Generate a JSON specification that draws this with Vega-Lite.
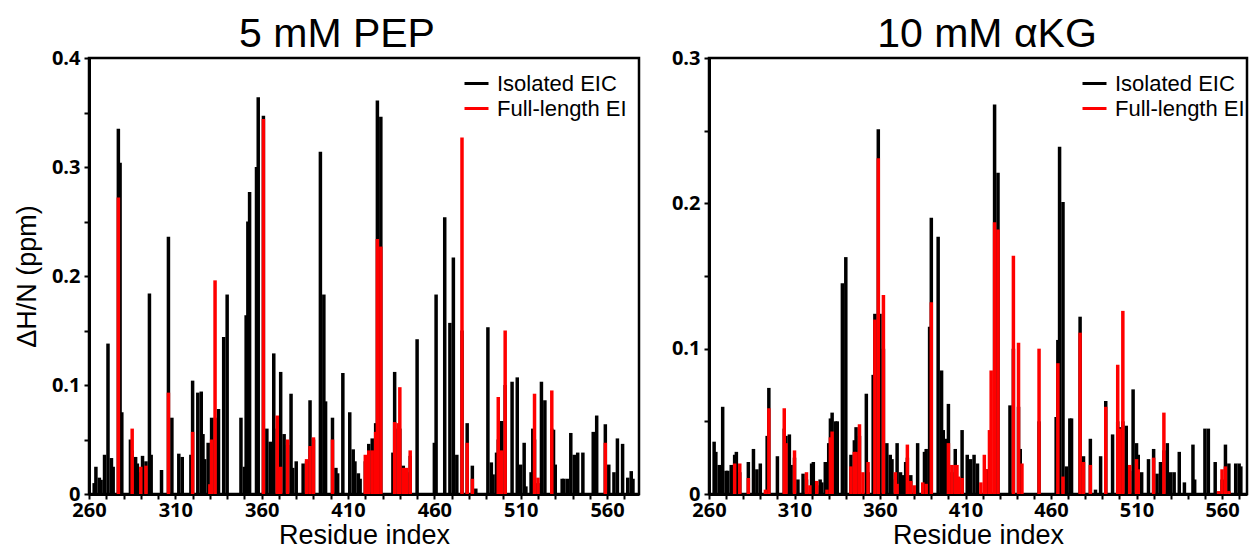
{
"$schema": "https://vega.github.io/schema/vega-lite/v6.json",
"background": "white",
"padding": {"left": 12, "top": 12, "right": 5, "bottom": 0},
"spacing": 29,
"resolve": {"legend": {"color": "independent"}},
"config": {
  "view": {"stroke": "black", "strokeWidth": 2.5},
  "axis": {"grid": false, "domainColor": "black", "domainWidth": 3, "tickColor": "black", "tickWidth": 2, "tickSize": 5, "labelFont": "Open Sans", "labelFontWeight": "bold", "labelFontSize": 20, "labelColor": "black", "labelFlush": false, "labelOverlap": false, "titleFont": "Liberation Sans", "titleFontWeight": "normal", "titleFontSize": 27, "titleColor": "black"},
  "axisY": {"labelPadding": 4},
  "axisX": {"labelPadding": 1}
},
"datasets": {
"pep": [
{"residue":263,"series":"Isolated EIC","shift":0.01},{"residue":264,"series":"Isolated EIC","shift":0.025},{"residue":266,"series":"Isolated EIC","shift":0.015},{"residue":267,"series":"Isolated EIC","shift":0.013},{"residue":269,"series":"Isolated EIC","shift":0.036},{"residue":271,"series":"Isolated EIC","shift":0.138},{"residue":273,"series":"Isolated EIC","shift":0.033},{"residue":274,"series":"Isolated EIC","shift":0.025},{"residue":277,"series":"Isolated EIC","shift":0.335},{"residue":278,"series":"Isolated EIC","shift":0.304},{"residue":279,"series":"Isolated EIC","shift":0.075},{"residue":284,"series":"Isolated EIC","shift":0.05},{"residue":285,"series":"Isolated EIC","shift":0.04},{"residue":287,"series":"Isolated EIC","shift":0.034},{"residue":288,"series":"Isolated EIC","shift":0.028},{"residue":290,"series":"Isolated EIC","shift":0.02},{"residue":291,"series":"Isolated EIC","shift":0.035},{"residue":293,"series":"Isolated EIC","shift":0.03},{"residue":295,"series":"Isolated EIC","shift":0.184},{"residue":296,"series":"Isolated EIC","shift":0.036},{"residue":302,"series":"Isolated EIC","shift":0.022},{"residue":306,"series":"Isolated EIC","shift":0.236},{"residue":308,"series":"Isolated EIC","shift":0.07},{"residue":312,"series":"Isolated EIC","shift":0.037},{"residue":314,"series":"Isolated EIC","shift":0.034},{"residue":319,"series":"Isolated EIC","shift":0.036},{"residue":320,"series":"Isolated EIC","shift":0.104},{"residue":323,"series":"Isolated EIC","shift":0.093},{"residue":325,"series":"Isolated EIC","shift":0.094},{"residue":326,"series":"Isolated EIC","shift":0.055},{"residue":327,"series":"Isolated EIC","shift":0.032},{"residue":329,"series":"Isolated EIC","shift":0.047},{"residue":330,"series":"Isolated EIC","shift":0.005},{"residue":331,"series":"Isolated EIC","shift":0.07},{"residue":333,"series":"Isolated EIC","shift":0.07},{"residue":335,"series":"Isolated EIC","shift":0.078},{"residue":338,"series":"Isolated EIC","shift":0.144},{"residue":340,"series":"Isolated EIC","shift":0.183},{"residue":348,"series":"Isolated EIC","shift":0.07},{"residue":350,"series":"Isolated EIC","shift":0.025},{"residue":351,"series":"Isolated EIC","shift":0.164},{"residue":352,"series":"Isolated EIC","shift":0.25},{"residue":353,"series":"Isolated EIC","shift":0.277},{"residue":357,"series":"Isolated EIC","shift":0.3},{"residue":358,"series":"Isolated EIC","shift":0.364},{"residue":361,"series":"Isolated EIC","shift":0.347},{"residue":363,"series":"Isolated EIC","shift":0.06},{"residue":365,"series":"Isolated EIC","shift":0.048},{"residue":367,"series":"Isolated EIC","shift":0.129},{"residue":369,"series":"Isolated EIC","shift":0.06},{"residue":371,"series":"Isolated EIC","shift":0.112},{"residue":373,"series":"Isolated EIC","shift":0.055},{"residue":375,"series":"Isolated EIC","shift":0.045},{"residue":377,"series":"Isolated EIC","shift":0.092},{"residue":378,"series":"Isolated EIC","shift":0.024},{"residue":380,"series":"Isolated EIC","shift":0.03},{"residue":384,"series":"Isolated EIC","shift":0.028},{"residue":386,"series":"Isolated EIC","shift":0.03},{"residue":388,"series":"Isolated EIC","shift":0.086},{"residue":390,"series":"Isolated EIC","shift":0.05},{"residue":394,"series":"Isolated EIC","shift":0.314},{"residue":396,"series":"Isolated EIC","shift":0.183},{"residue":397,"series":"Isolated EIC","shift":0.085},{"residue":401,"series":"Isolated EIC","shift":0.07},{"residue":403,"series":"Isolated EIC","shift":0.024},{"residue":404,"series":"Isolated EIC","shift":0.019},{"residue":407,"series":"Isolated EIC","shift":0.111},{"residue":411,"series":"Isolated EIC","shift":0.075},{"residue":413,"series":"Isolated EIC","shift":0.041},{"residue":414,"series":"Isolated EIC","shift":0.03},{"residue":416,"series":"Isolated EIC","shift":0.019},{"residue":417,"series":"Isolated EIC","shift":0.014},{"residue":420,"series":"Isolated EIC","shift":0.03},{"residue":422,"series":"Isolated EIC","shift":0.046},{"residue":424,"series":"Isolated EIC","shift":0.051},{"residue":426,"series":"Isolated EIC","shift":0.065},{"residue":427,"series":"Isolated EIC","shift":0.361},{"residue":429,"series":"Isolated EIC","shift":0.346},{"residue":436,"series":"Isolated EIC","shift":0.038},{"residue":437,"series":"Isolated EIC","shift":0.112},{"residue":439,"series":"Isolated EIC","shift":0.06},{"residue":440,"series":"Isolated EIC","shift":0.06},{"residue":442,"series":"Isolated EIC","shift":0.026},{"residue":444,"series":"Isolated EIC","shift":0.02},{"residue":446,"series":"Isolated EIC","shift":0.035},{"residue":450,"series":"Isolated EIC","shift":0.142},{"residue":460,"series":"Isolated EIC","shift":0.047},{"residue":461,"series":"Isolated EIC","shift":0.183},{"residue":466,"series":"Isolated EIC","shift":0.254},{"residue":469,"series":"Isolated EIC","shift":0.157},{"residue":471,"series":"Isolated EIC","shift":0.217},{"residue":473,"series":"Isolated EIC","shift":0.036},{"residue":476,"series":"Isolated EIC","shift":0.15},{"residue":479,"series":"Isolated EIC","shift":0.065},{"residue":482,"series":"Isolated EIC","shift":0.026},{"residue":484,"series":"Isolated EIC","shift":0.005},{"residue":491,"series":"Isolated EIC","shift":0.153},{"residue":493,"series":"Isolated EIC","shift":0.029},{"residue":494,"series":"Isolated EIC","shift":0.018},{"residue":496,"series":"Isolated EIC","shift":0.038},{"residue":497,"series":"Isolated EIC","shift":0.05},{"residue":499,"series":"Isolated EIC","shift":0.067},{"residue":501,"series":"Isolated EIC","shift":0.1},{"residue":505,"series":"Isolated EIC","shift":0.103},{"residue":508,"series":"Isolated EIC","shift":0.107},{"residue":510,"series":"Isolated EIC","shift":0.027},{"residue":512,"series":"Isolated EIC","shift":0.047},{"residue":513,"series":"Isolated EIC","shift":0.007},{"residue":516,"series":"Isolated EIC","shift":0.02},{"residue":517,"series":"Isolated EIC","shift":0.06},{"residue":518,"series":"Isolated EIC","shift":0.05},{"residue":520,"series":"Isolated EIC","shift":0.01},{"residue":522,"series":"Isolated EIC","shift":0.103},{"residue":524,"series":"Isolated EIC","shift":0.086},{"residue":528,"series":"Isolated EIC","shift":0.06},{"residue":529,"series":"Isolated EIC","shift":0.059},{"residue":530,"series":"Isolated EIC","shift":0.027},{"residue":534,"series":"Isolated EIC","shift":0.014},{"residue":535,"series":"Isolated EIC","shift":0.014},{"residue":537,"series":"Isolated EIC","shift":0.014},{"residue":539,"series":"Isolated EIC","shift":0.056},{"residue":541,"series":"Isolated EIC","shift":0.036},{"residue":543,"series":"Isolated EIC","shift":0.038},{"residue":546,"series":"Isolated EIC","shift":0.038},{"residue":552,"series":"Isolated EIC","shift":0.057},{"residue":554,"series":"Isolated EIC","shift":0.072},{"residue":559,"series":"Isolated EIC","shift":0.064},{"residue":561,"series":"Isolated EIC","shift":0.027},{"residue":564,"series":"Isolated EIC","shift":0.02},{"residue":566,"series":"Isolated EIC","shift":0.051},{"residue":569,"series":"Isolated EIC","shift":0.046},{"residue":572,"series":"Isolated EIC","shift":0.015},{"residue":574,"series":"Isolated EIC","shift":0.021},{"residue":575,"series":"Isolated EIC","shift":0.014},
{"residue":277,"series":"Full-length EI","shift":0.272},{"residue":285,"series":"Full-length EI","shift":0.06},{"residue":290,"series":"Full-length EI","shift":0.025},{"residue":293,"series":"Full-length EI","shift":0.026},{"residue":306,"series":"Full-length EI","shift":0.093},{"residue":320,"series":"Full-length EI","shift":0.057},{"residue":330,"series":"Full-length EI","shift":0.009},{"residue":331,"series":"Full-length EI","shift":0.05},{"residue":333,"series":"Full-length EI","shift":0.196},{"residue":361,"series":"Full-length EI","shift":0.344},{"residue":369,"series":"Full-length EI","shift":0.072},{"residue":371,"series":"Full-length EI","shift":0.025},{"residue":375,"series":"Full-length EI","shift":0.05},{"residue":386,"series":"Full-length EI","shift":0.032},{"residue":388,"series":"Full-length EI","shift":0.044},{"residue":390,"series":"Full-length EI","shift":0.052},{"residue":401,"series":"Full-length EI","shift":0.05},{"residue":420,"series":"Full-length EI","shift":0.036},{"residue":422,"series":"Full-length EI","shift":0.04},{"residue":424,"series":"Full-length EI","shift":0.04},{"residue":426,"series":"Full-length EI","shift":0.057},{"residue":427,"series":"Full-length EI","shift":0.234},{"residue":429,"series":"Full-length EI","shift":0.227},{"residue":437,"series":"Full-length EI","shift":0.066},{"residue":439,"series":"Full-length EI","shift":0.065},{"residue":440,"series":"Full-length EI","shift":0.098},{"residue":442,"series":"Full-length EI","shift":0.024},{"residue":444,"series":"Full-length EI","shift":0.024},{"residue":446,"series":"Full-length EI","shift":0.04},{"residue":476,"series":"Full-length EI","shift":0.327},{"residue":479,"series":"Full-length EI","shift":0.047},{"residue":482,"series":"Full-length EI","shift":0.014},{"residue":497,"series":"Full-length EI","shift":0.089},{"residue":499,"series":"Full-length EI","shift":0.04},{"residue":501,"series":"Full-length EI","shift":0.15},{"residue":518,"series":"Full-length EI","shift":0.092},{"residue":520,"series":"Full-length EI","shift":0.015},{"residue":528,"series":"Full-length EI","shift":0.095},{"residue":559,"series":"Full-length EI","shift":0.047}
],
"akg": [
{"residue":263,"series":"Isolated EIC","shift":0.036},{"residue":264,"series":"Isolated EIC","shift":0.029},{"residue":266,"series":"Isolated EIC","shift":0.02},{"residue":267,"series":"Isolated EIC","shift":0.007},{"residue":268,"series":"Isolated EIC","shift":0.06},{"residue":270,"series":"Isolated EIC","shift":0.016},{"residue":271,"series":"Isolated EIC","shift":0.016},{"residue":273,"series":"Isolated EIC","shift":0.02},{"residue":275,"series":"Isolated EIC","shift":0.027},{"residue":276,"series":"Isolated EIC","shift":0.029},{"residue":278,"series":"Isolated EIC","shift":0.015},{"residue":283,"series":"Isolated EIC","shift":0.022},{"residue":286,"series":"Isolated EIC","shift":0.031},{"residue":288,"series":"Isolated EIC","shift":0.017},{"residue":290,"series":"Isolated EIC","shift":0.021},{"residue":294,"series":"Isolated EIC","shift":0.04},{"residue":295,"series":"Isolated EIC","shift":0.073},{"residue":300,"series":"Isolated EIC","shift":0.026},{"residue":304,"series":"Isolated EIC","shift":0.045},{"residue":305,"series":"Isolated EIC","shift":0.04},{"residue":307,"series":"Isolated EIC","shift":0.041},{"residue":308,"series":"Isolated EIC","shift":0.02},{"residue":310,"series":"Isolated EIC","shift":0.025},{"residue":312,"series":"Isolated EIC","shift":0.01},{"residue":315,"series":"Isolated EIC","shift":0.014},{"residue":317,"series":"Isolated EIC","shift":0.01},{"residue":320,"series":"Isolated EIC","shift":0.021},{"residue":321,"series":"Isolated EIC","shift":0.022},{"residue":323,"series":"Isolated EIC","shift":0.006},{"residue":325,"series":"Isolated EIC","shift":0.01},{"residue":326,"series":"Isolated EIC","shift":0.008},{"residue":328,"series":"Isolated EIC","shift":0.022},{"residue":330,"series":"Isolated EIC","shift":0.035},{"residue":331,"series":"Isolated EIC","shift":0.052},{"residue":332,"series":"Isolated EIC","shift":0.056},{"residue":334,"series":"Isolated EIC","shift":0.05},{"residue":335,"series":"Isolated EIC","shift":0.05},{"residue":338,"series":"Isolated EIC","shift":0.145},{"residue":340,"series":"Isolated EIC","shift":0.163},{"residue":343,"series":"Isolated EIC","shift":0.027},{"residue":345,"series":"Isolated EIC","shift":0.037},{"residue":346,"series":"Isolated EIC","shift":0.046},{"residue":348,"series":"Isolated EIC","shift":0.04},{"residue":352,"series":"Isolated EIC","shift":0.069},{"residue":353,"series":"Isolated EIC","shift":0.015},{"residue":356,"series":"Isolated EIC","shift":0.082},{"residue":357,"series":"Isolated EIC","shift":0.124},{"residue":359,"series":"Isolated EIC","shift":0.251},{"residue":360,"series":"Isolated EIC","shift":0.124},{"residue":362,"series":"Isolated EIC","shift":0.1},{"residue":364,"series":"Isolated EIC","shift":0.035},{"residue":366,"series":"Isolated EIC","shift":0.027},{"residue":367,"series":"Isolated EIC","shift":0.024},{"residue":369,"series":"Isolated EIC","shift":0.01},{"residue":370,"series":"Isolated EIC","shift":0.035},{"residue":372,"series":"Isolated EIC","shift":0.015},{"residue":373,"series":"Isolated EIC","shift":0.013},{"residue":375,"series":"Isolated EIC","shift":0.022},{"residue":376,"series":"Isolated EIC","shift":0.025},{"residue":378,"series":"Isolated EIC","shift":0.013},{"residue":382,"series":"Isolated EIC","shift":0.035},{"residue":386,"series":"Isolated EIC","shift":0.029},{"residue":387,"series":"Isolated EIC","shift":0.031},{"residue":389,"series":"Isolated EIC","shift":0.115},{"residue":390,"series":"Isolated EIC","shift":0.19},{"residue":394,"series":"Isolated EIC","shift":0.177},{"residue":396,"series":"Isolated EIC","shift":0.085},{"residue":397,"series":"Isolated EIC","shift":0.044},{"residue":399,"series":"Isolated EIC","shift":0.038},{"residue":400,"series":"Isolated EIC","shift":0.062},{"residue":402,"series":"Isolated EIC","shift":0.015},{"residue":404,"series":"Isolated EIC","shift":0.031},{"residue":408,"series":"Isolated EIC","shift":0.044},{"residue":411,"series":"Isolated EIC","shift":0.027},{"residue":413,"series":"Isolated EIC","shift":0.024},{"residue":415,"series":"Isolated EIC","shift":0.027},{"residue":417,"series":"Isolated EIC","shift":0.021},{"residue":423,"series":"Isolated EIC","shift":0.017},{"residue":427,"series":"Isolated EIC","shift":0.268},{"residue":429,"series":"Isolated EIC","shift":0.221},{"residue":436,"series":"Isolated EIC","shift":0.061},{"residue":438,"series":"Isolated EIC","shift":0.1},{"residue":441,"series":"Isolated EIC","shift":0.06},{"residue":442,"series":"Isolated EIC","shift":0.031},{"residue":453,"series":"Isolated EIC","shift":0.05},{"residue":463,"series":"Isolated EIC","shift":0.053},{"residue":464,"series":"Isolated EIC","shift":0.106},{"residue":465,"series":"Isolated EIC","shift":0.239},{"residue":467,"series":"Isolated EIC","shift":0.201},{"residue":469,"series":"Isolated EIC","shift":0.019},{"residue":471,"series":"Isolated EIC","shift":0.052},{"residue":472,"series":"Isolated EIC","shift":0.052},{"residue":477,"series":"Isolated EIC","shift":0.122},{"residue":479,"series":"Isolated EIC","shift":0.026},{"residue":483,"series":"Isolated EIC","shift":0.038},{"residue":486,"series":"Isolated EIC","shift":0.003},{"residue":489,"series":"Isolated EIC","shift":0.026},{"residue":492,"series":"Isolated EIC","shift":0.064},{"residue":496,"series":"Isolated EIC","shift":0.041},{"residue":499,"series":"Isolated EIC","shift":0.05},{"residue":500,"series":"Isolated EIC","shift":0.046},{"residue":502,"series":"Isolated EIC","shift":0.05},{"residue":504,"series":"Isolated EIC","shift":0.047},{"residue":506,"series":"Isolated EIC","shift":0.016},{"residue":508,"series":"Isolated EIC","shift":0.072},{"residue":510,"series":"Isolated EIC","shift":0.035},{"residue":511,"series":"Isolated EIC","shift":0.027},{"residue":513,"series":"Isolated EIC","shift":0.015},{"residue":517,"series":"Isolated EIC","shift":0.024},{"residue":520,"series":"Isolated EIC","shift":0.031},{"residue":522,"series":"Isolated EIC","shift":0.014},{"residue":524,"series":"Isolated EIC","shift":0.022},{"residue":526,"series":"Isolated EIC","shift":0.03},{"residue":528,"series":"Isolated EIC","shift":0.035},{"residue":530,"series":"Isolated EIC","shift":0.015},{"residue":532,"series":"Isolated EIC","shift":0.015},{"residue":535,"series":"Isolated EIC","shift":0.029},{"residue":538,"series":"Isolated EIC","shift":0.008},{"residue":543,"series":"Isolated EIC","shift":0.034},{"residue":544,"series":"Isolated EIC","shift":0.01},{"residue":550,"series":"Isolated EIC","shift":0.045},{"residue":552,"series":"Isolated EIC","shift":0.045},{"residue":556,"series":"Isolated EIC","shift":0.022},{"residue":560,"series":"Isolated EIC","shift":0.01},{"residue":562,"series":"Isolated EIC","shift":0.034},{"residue":564,"series":"Isolated EIC","shift":0.021},{"residue":568,"series":"Isolated EIC","shift":0.021},{"residue":570,"series":"Isolated EIC","shift":0.021},{"residue":571,"series":"Isolated EIC","shift":0.019},
{"residue":275,"series":"Full-length EI","shift":0.021},{"residue":278,"series":"Full-length EI","shift":0.021},{"residue":283,"series":"Full-length EI","shift":0.011},{"residue":293,"series":"Full-length EI","shift":0.003},{"residue":295,"series":"Full-length EI","shift":0.059},{"residue":304,"series":"Full-length EI","shift":0.059},{"residue":305,"series":"Full-length EI","shift":0.035},{"residue":310,"series":"Full-length EI","shift":0.03},{"residue":317,"series":"Full-length EI","shift":0.015},{"residue":319,"series":"Full-length EI","shift":0.006},{"residue":323,"series":"Full-length EI","shift":0.009},{"residue":329,"series":"Full-length EI","shift":0.003},{"residue":331,"series":"Full-length EI","shift":0.039},{"residue":332,"series":"Full-length EI","shift":0.043},{"residue":343,"series":"Full-length EI","shift":0.019},{"residue":345,"series":"Full-length EI","shift":0.029},{"residue":346,"series":"Full-length EI","shift":0.029},{"residue":348,"series":"Full-length EI","shift":0.048},{"residue":350,"series":"Full-length EI","shift":0.015},{"residue":353,"series":"Full-length EI","shift":0.022},{"residue":357,"series":"Full-length EI","shift":0.12},{"residue":359,"series":"Full-length EI","shift":0.231},{"residue":362,"series":"Full-length EI","shift":0.137},{"residue":369,"series":"Full-length EI","shift":0.015},{"residue":370,"series":"Full-length EI","shift":0.007},{"residue":376,"series":"Full-length EI","shift":0.034},{"residue":378,"series":"Full-length EI","shift":0.009},{"residue":380,"series":"Full-length EI","shift":0.006},{"residue":385,"series":"Full-length EI","shift":0.008},{"residue":387,"series":"Full-length EI","shift":0.007},{"residue":390,"series":"Full-length EI","shift":0.132},{"residue":400,"series":"Full-length EI","shift":0.035},{"residue":402,"series":"Full-length EI","shift":0.02},{"residue":404,"series":"Full-length EI","shift":0.02},{"residue":405,"series":"Full-length EI","shift":0.02},{"residue":406,"series":"Full-length EI","shift":0.012},{"residue":408,"series":"Full-length EI","shift":0.011},{"residue":419,"series":"Full-length EI","shift":0.008},{"residue":421,"series":"Full-length EI","shift":0.027},{"residue":422,"series":"Full-length EI","shift":0.017},{"residue":424,"series":"Full-length EI","shift":0.044},{"residue":425,"series":"Full-length EI","shift":0.085},{"residue":427,"series":"Full-length EI","shift":0.187},{"residue":429,"series":"Full-length EI","shift":0.182},{"residue":438,"series":"Full-length EI","shift":0.164},{"residue":441,"series":"Full-length EI","shift":0.104},{"residue":443,"series":"Full-length EI","shift":0.021},{"residue":453,"series":"Full-length EI","shift":0.1},{"residue":464,"series":"Full-length EI","shift":0.09},{"residue":467,"series":"Full-length EI","shift":0.012},{"residue":477,"series":"Full-length EI","shift":0.111},{"residue":479,"series":"Full-length EI","shift":0.022},{"residue":483,"series":"Full-length EI","shift":0.02},{"residue":492,"series":"Full-length EI","shift":0.06},{"residue":499,"series":"Full-length EI","shift":0.089},{"residue":500,"series":"Full-length EI","shift":0.045},{"residue":502,"series":"Full-length EI","shift":0.126},{"residue":506,"series":"Full-length EI","shift":0.02},{"residue":510,"series":"Full-length EI","shift":0.024},{"residue":511,"series":"Full-length EI","shift":0.017},{"residue":520,"series":"Full-length EI","shift":0.025},{"residue":526,"series":"Full-length EI","shift":0.056},{"residue":558,"series":"Full-length EI","shift":0.002},{"residue":560,"series":"Full-length EI","shift":0.017},{"residue":562,"series":"Full-length EI","shift":0.019},{"residue":564,"series":"Full-length EI","shift":0.002}
]
},
"hconcat": [
{
  "title": {"text": "5 mM PEP", "font": "Liberation Sans", "fontSize": 41, "fontWeight": "normal", "color": "black", "anchor": "middle", "dx": -27, "offset": -8},
  "width": 550, "height": 436,
  "data": {"name": "pep"},
  "encoding": {
    "x": {"field": "residue", "type": "quantitative", "title": "Residue index", "scale": {"domain": [260, 578.5], "nice": false, "zero": false},
      "axis": {"values": [260,270,280,290,300,310,320,330,340,350,360,370,380,390,400,410,420,430,440,450,460,470,480,490,500,510,520,530,540,550,560,570], "labelExpr": "(datum.value - 260) % 50 == 0 ? datum.label : ''", "titlePadding": 2}},
    "y": {"field": "shift", "type": "quantitative", "title": "ΔH/N (ppm)", "scale": {"domain": [0, 0.4], "nice": false},
      "axis": {"values": [0,0.05,0.1,0.15,0.2,0.25,0.3,0.35,0.4], "labelExpr": "round(datum.value*100) % 10 == 0 ? format(datum.value, '.1~f') : ''", "titlePadding": 10}},
    "y2": {"datum": 0},
    "color": {"field": "series", "type": "nominal", "scale": {"domain": ["Isolated EIC", "Full-length EI"], "range": ["#000000", "#ff0000"]},
      "legend": {"orient": "none", "legendX": 374, "legendY": 12, "title": null, "symbolType": "stroke", "symbolSize": 576, "symbolStrokeWidth": 3, "labelFont": "Liberation Sans", "labelFontSize": 22, "labelColor": "black", "labelLimit": 300, "padding": 0, "rowPadding": 0, "labelOffset": 7}}
  },
  "layer": [
    {"transform": [{"filter": "datum.series == 'Isolated EIC'"}], "mark": {"type": "rule", "strokeWidth": 3.5}},
    {"transform": [{"filter": "datum.series == 'Full-length EI'"}], "mark": {"type": "rule", "strokeWidth": 3.5}}
  ]
},
{
  "title": {"text": "10 mM αKG", "font": "Liberation Sans", "fontSize": 41, "fontWeight": "normal", "color": "black", "anchor": "middle", "dx": 9, "offset": -8},
  "width": 538, "height": 436,
  "data": {"name": "akg"},
  "encoding": {
    "x": {"field": "residue", "type": "quantitative", "title": "Residue index", "scale": {"domain": [260, 574.6], "nice": false, "zero": false},
      "axis": {"values": [260,270,280,290,300,310,320,330,340,350,360,370,380,390,400,410,420,430,440,450,460,470,480,490,500,510,520,530,540,550,560,570], "labelExpr": "(datum.value - 260) % 50 == 0 ? datum.label : ''", "titlePadding": 2}},
    "y": {"field": "shift", "type": "quantitative", "title": null, "scale": {"domain": [0, 0.3], "nice": false},
      "axis": {"values": [0,0.05,0.1,0.15,0.2,0.25,0.3], "labelExpr": "round(datum.value*100) % 10 == 0 ? format(datum.value, '.1~f') : ''"}},
    "y2": {"datum": 0},
    "color": {"field": "series", "type": "nominal", "scale": {"domain": ["Isolated EIC", "Full-length EI"], "range": ["#000000", "#ff0000"]},
      "legend": {"orient": "none", "legendX": 372, "legendY": 12, "title": null, "symbolType": "stroke", "symbolSize": 576, "symbolStrokeWidth": 3, "labelFont": "Liberation Sans", "labelFontSize": 22, "labelColor": "black", "labelLimit": 300, "padding": 0, "rowPadding": 0, "labelOffset": 7}}
  },
  "layer": [
    {"transform": [{"filter": "datum.series == 'Isolated EIC'"}], "mark": {"type": "rule", "strokeWidth": 3.5}},
    {"transform": [{"filter": "datum.series == 'Full-length EI'"}], "mark": {"type": "rule", "strokeWidth": 3.5}}
  ]
}
]
}
